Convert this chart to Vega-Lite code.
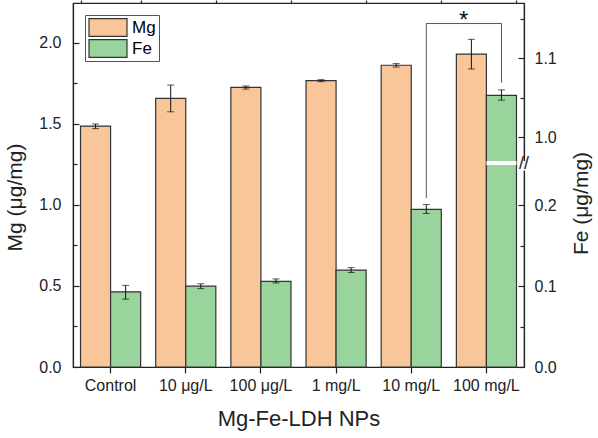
{
  "$schema": "https://vega.github.io/schema/vega-lite/v6.json",
  "width": 451,
  "height": 364,
  "autosize": {"type": "none"},
  "padding": {"left": 73, "top": 3, "right": 74, "bottom": 71},
  "config": {
    "font": "Liberation Sans",
    "view": {"stroke": "#222222", "strokeWidth": 1.2},
    "axis": {"domainColor": "#222222", "tickColor": "#222222", "labelColor": "#222222", "titleColor": "#222222", "grid": false, "labelFont": "Liberation Sans", "titleFont": "Liberation Sans", "titleFontWeight": "normal", "domainWidth": 1.2, "tickWidth": 1.2},
    "legend": {"labelFont": "Liberation Sans"}
  },
  "datasets": {
    "bars": [
      {"cat": "Control", "el": "Mg", "v": 1.486, "lo": 1.470, "hi": 1.499},
      {"cat": "10 μg/L", "el": "Mg", "v": 1.657, "lo": 1.574, "hi": 1.739},
      {"cat": "100 μg/L", "el": "Mg", "v": 1.725, "lo": 1.714, "hi": 1.733},
      {"cat": "1 mg/L", "el": "Mg", "v": 1.766, "lo": 1.760, "hi": 1.772},
      {"cat": "10 mg/L", "el": "Mg", "v": 1.861, "lo": 1.850, "hi": 1.871},
      {"cat": "100 mg/L", "el": "Mg", "v": 1.930, "lo": 1.838, "hi": 2.021},
      {"cat": "Control", "el": "Fe", "v": 0.093, "lo": 0.084, "hi": 0.101},
      {"cat": "10 μg/L", "el": "Fe", "v": 0.100, "lo": 0.097, "hi": 0.103},
      {"cat": "100 μg/L", "el": "Fe", "v": 0.106, "lo": 0.104, "hi": 0.109},
      {"cat": "1 mg/L", "el": "Fe", "v": 0.120, "lo": 0.117, "hi": 0.123},
      {"cat": "10 mg/L", "el": "Fe", "v": 0.195, "lo": 0.190, "hi": 0.201},
      {"cat": "100 mg/L", "el": "Fe", "v": 1.053, "lo": 1.047, "hi": 1.060}
    ],
    "bracket": [
      {"cat": "10 mg/L", "el": "Fe", "v": 0.209, "o": 1},
      {"cat": "10 mg/L", "el": "Fe", "v": 1.144, "o": 2},
      {"cat": "100 mg/L", "el": "Fe", "v": 1.144, "o": 3},
      {"cat": "100 mg/L", "el": "Fe", "v": 1.069, "o": 4}
    ],
    "star": [
      {"cat": "100 mg/L", "v": 1.138, "label": "*"}
    ]
  },
  "layer": [
    {
      "layer": [
        {
          "data": {"name": "bars"},
          "transform": [{"filter": "datum.el === 'Mg'"}],
          "mark": {"type": "bar", "stroke": "#333333", "strokeWidth": 1.2},
          "encoding": {
            "x": {"field": "cat", "type": "nominal", "sort": ["Control", "10 μg/L", "100 μg/L", "1 mg/L", "10 mg/L", "100 mg/L"], "scale": {"paddingInner": 0.2, "paddingOuter": 0.1},
              "axis": {"title": "Mg-Fe-LDH NPs", "titleFontSize": 22, "titlePadding": 15, "labelFontSize": 16, "labelAngle": 0, "labelPadding": 4, "tickSize": 6}},
            "xOffset": {"field": "el", "type": "nominal", "sort": ["Mg", "Fe"], "scale": {"domain": ["Mg", "Fe"], "paddingInner": 0, "paddingOuter": 0}},
            "y": {"field": "v", "type": "quantitative", "scale": {"domain": [0, 2.245], "nice": false},
              "axis": {"orient": "left", "title": "Mg (μg/mg)", "titleFontSize": 21, "titlePadding": 13, "titleY": 194, "values": [0, 0.5, 1, 1.5, 2], "format": ".1f", "labelFontSize": 16, "tickSize": -6, "labelPadding": 18}},
            "color": {"field": "el", "type": "nominal", "scale": {"domain": ["Mg", "Fe"], "range": ["#F9C69A", "#99D49D"]},
              "legend": {"title": null, "orient": "top-left", "offset": 12, "symbolType": "M-1,-0.47H1V0.47H-1Z", "symbolSize": 1444, "symbolStrokeColor": "#333333", "symbolStrokeWidth": 1.2, "symbolOpacity": 1, "labelFontSize": 17, "labelOffset": 4, "clipHeight": 19, "rowPadding": 2, "padding": 3, "strokeColor": "#555555", "fillColor": "white"}}
          }
        },
        {
          "data": {"name": "bars"},
          "transform": [{"filter": "datum.el === 'Mg'"}],
          "mark": {"type": "rule", "color": "#111111", "strokeWidth": 1},
          "encoding": {
            "x": {"field": "cat", "type": "nominal", "sort": ["Control", "10 μg/L", "100 μg/L", "1 mg/L", "10 mg/L", "100 mg/L"],
              "axis": {"title": null, "labels": false, "domain": false, "tickBand": "extent", "tickSize": 3}},
            "xOffset": {"field": "el", "type": "nominal", "sort": ["Mg", "Fe"]},
            "y": {"field": "lo", "type": "quantitative", "scale": {"domain": [0, 2.245], "nice": false},
              "axis": {"orient": "left", "title": null, "values": [0.25, 0.75, 1.25, 1.75], "labels": false, "domain": false, "tickSize": -4}},
            "y2": {"field": "hi"}
          }
        },
        {
          "data": {"name": "bars"},
          "transform": [{"filter": "datum.el === 'Mg'"}],
          "mark": {"type": "tick", "color": "#111111", "size": 7, "thickness": 1},
          "encoding": {
            "x": {"field": "cat", "type": "nominal", "sort": ["Control", "10 μg/L", "100 μg/L", "1 mg/L", "10 mg/L", "100 mg/L"], "axis": null},
            "xOffset": {"field": "el", "type": "nominal", "sort": ["Mg", "Fe"]},
            "y": {"field": "hi", "type": "quantitative", "scale": {"domain": [0, 2.245], "nice": false}, "axis": null}
          }
        },
        {
          "data": {"name": "bars"},
          "transform": [{"filter": "datum.el === 'Mg'"}],
          "mark": {"type": "tick", "color": "#111111", "size": 7, "thickness": 1},
          "encoding": {
            "x": {"field": "cat", "type": "nominal", "sort": ["Control", "10 μg/L", "100 μg/L", "1 mg/L", "10 mg/L", "100 mg/L"], "axis": null},
            "xOffset": {"field": "el", "type": "nominal", "sort": ["Mg", "Fe"]},
            "y": {"field": "lo", "type": "quantitative", "scale": {"domain": [0, 2.245], "nice": false}, "axis": null}
          }
        }
      ],
      "resolve": {"axis": {"y": "independent", "x": "independent"}}
    },
    {
      "layer": [
        {
          "data": {"name": "bars"},
          "transform": [{"filter": "datum.el === 'Fe'"}],
          "mark": {"type": "bar", "stroke": "#333333", "strokeWidth": 1.2},
          "encoding": {
            "x": {"field": "cat", "type": "nominal", "sort": ["Control", "10 μg/L", "100 μg/L", "1 mg/L", "10 mg/L", "100 mg/L"], "axis": null},
            "xOffset": {"field": "el", "type": "nominal", "sort": ["Mg", "Fe"]},
            "y": {"field": "v", "type": "quantitative", "scale": {"domain": [0, 0.25, 0.97, 1.17], "range": [364, 162, 158, 0], "nice": false, "zero": false},
              "axis": {"orient": "right", "title": "Fe (μg/mg)", "titleFontSize": 21, "titlePadding": 14, "titleAngle": 270, "titleBaseline": "top", "titleY": 200, "values": [0, 0.1, 0.2, 1.0, 1.1], "format": ".1f", "labelFontSize": 16, "tickSize": -6, "labelPadding": 16}},
            "color": {"field": "el", "type": "nominal", "scale": {"domain": ["Mg", "Fe"], "range": ["#F9C69A", "#99D49D"]},
              "legend": {"title": null, "orient": "top-left", "offset": 12, "symbolType": "M-1,-0.47H1V0.47H-1Z", "symbolSize": 1444, "symbolStrokeColor": "#333333", "symbolStrokeWidth": 1.2, "symbolOpacity": 1, "labelFontSize": 17, "labelOffset": 4, "clipHeight": 19, "rowPadding": 2, "padding": 3, "strokeColor": "#555555", "fillColor": "white"}}
          }
        },
        {
          "data": {"name": "bars"},
          "transform": [{"filter": "datum.el === 'Fe' && datum.cat === '100 mg/L'"}],
          "mark": {"type": "bar", "color": "white"},
          "encoding": {
            "x": {"field": "cat", "type": "nominal", "sort": ["Control", "10 μg/L", "100 μg/L", "1 mg/L", "10 mg/L", "100 mg/L"], "axis": null},
            "xOffset": {"field": "el", "type": "nominal", "sort": ["Mg", "Fe"]},
            "y": {"datum": 0.25, "type": "quantitative", "scale": {"domain": [0, 0.25, 0.97, 1.17], "range": [364, 162, 158, 0], "nice": false, "zero": false}, "axis": null},
            "y2": {"datum": 0.97}
          }
        },
        {
          "data": {"name": "bars"},
          "transform": [{"filter": "datum.el === 'Fe'"}],
          "mark": {"type": "rule", "color": "#111111", "strokeWidth": 1},
          "encoding": {
            "x": {"field": "cat", "type": "nominal", "sort": ["Control", "10 μg/L", "100 μg/L", "1 mg/L", "10 mg/L", "100 mg/L"], "axis": null},
            "xOffset": {"field": "el", "type": "nominal", "sort": ["Mg", "Fe"]},
            "y": {"field": "lo", "type": "quantitative", "scale": {"domain": [0, 0.25, 0.97, 1.17], "range": [364, 162, 158, 0], "nice": false, "zero": false},
              "axis": {"orient": "right", "title": null, "values": [0.05, 0.15, 1.05, 1.15], "labels": false, "domain": false, "tickSize": -4}},
            "y2": {"field": "hi"}
          }
        },
        {
          "data": {"name": "bars"},
          "transform": [{"filter": "datum.el === 'Fe'"}],
          "mark": {"type": "tick", "color": "#111111", "size": 7, "thickness": 1},
          "encoding": {
            "x": {"field": "cat", "type": "nominal", "sort": ["Control", "10 μg/L", "100 μg/L", "1 mg/L", "10 mg/L", "100 mg/L"], "axis": null},
            "xOffset": {"field": "el", "type": "nominal", "sort": ["Mg", "Fe"]},
            "y": {"field": "hi", "type": "quantitative", "scale": {"domain": [0, 0.25, 0.97, 1.17], "range": [364, 162, 158, 0], "nice": false, "zero": false}, "axis": null}
          }
        },
        {
          "data": {"name": "bars"},
          "transform": [{"filter": "datum.el === 'Fe'"}],
          "mark": {"type": "tick", "color": "#111111", "size": 7, "thickness": 1},
          "encoding": {
            "x": {"field": "cat", "type": "nominal", "sort": ["Control", "10 μg/L", "100 μg/L", "1 mg/L", "10 mg/L", "100 mg/L"], "axis": null},
            "xOffset": {"field": "el", "type": "nominal", "sort": ["Mg", "Fe"]},
            "y": {"field": "lo", "type": "quantitative", "scale": {"domain": [0, 0.25, 0.97, 1.17], "range": [364, 162, 158, 0], "nice": false, "zero": false}, "axis": null}
          }
        },
        {
          "data": {"name": "bracket"},
          "mark": {"type": "line", "color": "#555555", "strokeWidth": 1},
          "encoding": {
            "x": {"field": "cat", "type": "nominal", "sort": ["Control", "10 μg/L", "100 μg/L", "1 mg/L", "10 mg/L", "100 mg/L"], "axis": null},
            "xOffset": {"field": "el", "type": "nominal", "sort": ["Mg", "Fe"]},
            "y": {"field": "v", "type": "quantitative", "scale": {"domain": [0, 0.25, 0.97, 1.17], "range": [364, 162, 158, 0], "nice": false, "zero": false}, "axis": null},
            "order": {"field": "o", "type": "quantitative"}
          }
        },
        {
          "data": {"name": "star"},
          "mark": {"type": "text", "fontSize": 24, "baseline": "alphabetic", "align": "center", "color": "#111111"},
          "encoding": {
            "x": {"field": "cat", "type": "nominal", "sort": ["Control", "10 μg/L", "100 μg/L", "1 mg/L", "10 mg/L", "100 mg/L"], "bandPosition": 0.12, "axis": null},
            "y": {"field": "v", "type": "quantitative", "scale": {"domain": [0, 0.25, 0.97, 1.17], "range": [364, 162, 158, 0], "nice": false, "zero": false}, "axis": null},
            "text": {"field": "label"}
          }
        },
        {
          "data": {"values": [{}]},
          "mark": {"type": "rule", "color": "white", "strokeWidth": 5},
          "encoding": {
            "x": {"value": "width"},
            "y": {"datum": 0.243, "type": "quantitative", "scale": {"domain": [0, 0.25, 0.97, 1.17], "range": [364, 162, 158, 0], "nice": false, "zero": false}, "axis": null},
            "y2": {"datum": 0.97}
          }
        },
        {
          "data": {"values": [{"t": "//"}]},
          "mark": {"type": "text", "fontSize": 18, "baseline": "middle", "align": "center", "color": "#222222"},
          "encoding": {
            "x": {"value": "width"},
            "y": {"datum": 0.5, "type": "quantitative", "scale": {"domain": [0, 0.25, 0.97, 1.17], "range": [364, 162, 158, 0], "nice": false, "zero": false}, "axis": null},
            "text": {"field": "t"}
          }
        }
      ],
      "resolve": {"axis": {"y": "independent", "x": "independent"}}
    }
  ],
  "resolve": {"scale": {"y": "independent"}, "axis": {"x": "independent"}}
}
